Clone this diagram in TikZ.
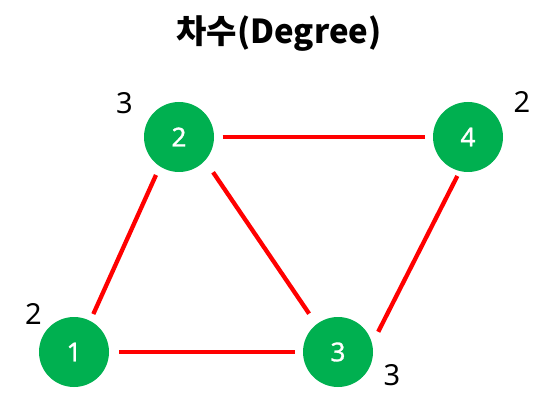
\documentclass[tikz,border=0pt]{standalone}
\usepackage{fontspec}
\setmainfont{Noto Sans}
\newfontfamily\krfont{Noto Sans CJK KR}
\newfontfamily\numfont[FakeBold=1.2]{Noto Sans}
\usetikzlibrary{calc}
\definecolor{nodegreen}{HTML}{00B050}
\definecolor{edgered}{HTML}{FF0000}
\tikzset{
  vert/.style={circle, fill=nodegreen, minimum size=70pt, inner sep=0pt, text=white, font=\numfont\fontsize{26}{26}\selectfont},
  edge/.style={draw=edgered, line width=4.3pt},
  deg/.style={inner sep=0pt, font=\fontsize{29}{29}\selectfont},
  titlestyle/.style={inner sep=0pt, font=\krfont\bfseries\fontsize{33}{33}\selectfont}
}
\begin{document}
\begin{tikzpicture}[x=1pt,y=-1pt]
\useasboundingbox (0,0) rectangle (556,411);
\node[titlestyle] (title) at (279,34) {차수(Degree)};
\node[vert] (n1) at (74,352) {1};
\node[vert] (n2) at (179,137) {2};
\node[vert] (n3) at (338,352) {3};
\node[vert] (n4) at (468,137) {4};
\node[deg] (d2) at (124.5,103) {3};
\node[deg] (d1) at (33.5,314) {2};
\node[deg] (d3) at (392,375.5) {3};
\node[deg] (d4) at (522,102.5) {2};
\draw[edge] ($(n1)+(63:42.6pt)$) -- ($(n2)+(238.8:44.4pt)$);
\draw[edge] ($(n2)+(0:43.7pt)$) -- ($(n4)+(180:43pt)$);
\draw[edge] ($(n1)+(0:45.3pt)$) -- ($(n3)+(180:43pt)$);
\draw[edge] ($(n2)+(-46:49pt)$) -- ($(n3)+(127:48pt)$);
\draw[edge] ($(n3)+(26.7:45pt)$) -- ($(n4)+(254.7:40.4pt)$);
\end{tikzpicture}
\end{document}
